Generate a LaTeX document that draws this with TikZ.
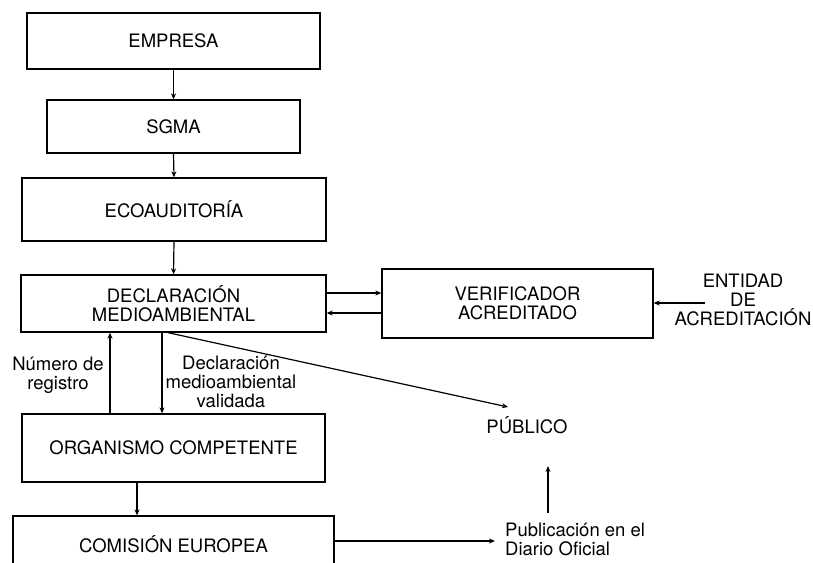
\documentclass[tikz,border=0pt]{standalone}
\usepackage{fontspec}
\setmainfont{TeX Gyre Heros}
\usetikzlibrary{arrows.meta,calc}
\begin{document}
\begin{tikzpicture}[x=1pt,y=-1pt,
  box/.style={draw,line width=1.3pt,inner sep=0pt,align=center,font=\fontsize{18.5}{19.5}\selectfont},
  lbl/.style={inner sep=0pt,align=center,font=\fontsize{18.5}{19}\selectfont},
  arr/.style={line width=1.2pt,-{Stealth[length=6pt,width=5pt]}}]
\clip (0,0) rectangle (813,562);
\fill[white] (0,0) rectangle (813,562);
\node[box,minimum width=293pt,minimum height=56pt] (emp) at (173.5,41) {EMPRESA};
\node[box,minimum width=253pt,minimum height=53pt] (sgma) at (173.5,126.5) {SGMA};
\node[box,minimum width=304pt,minimum height=63pt] (eco) at (174,209.5) {ECOAUDITORÍA};
\node[box,minimum width=305pt,minimum height=57pt] (decl) at (173.5,303.5) {DECLARACIÓN\\MEDIOAMBIENTAL};
\node[box,minimum width=271pt,minimum height=69pt] (ver) at (517.5,303.5) {VERIFICADOR\\ACREDITADO};
\node[lbl] (ent) at (743,300) {ENTIDAD\\DE\\ACREDITACIÓN};
\node[box,minimum width=303pt,minimum height=68pt] (org) at (173.5,448) {ORGANISMO COMPETENTE};
\node[box,minimum width=321pt,minimum height=56pt] (com) at (173.5,544) {COMISIÓN EUROPEA};
\node[lbl] (nreg) at (58,375) {Número de\\registro};
\node[lbl] (dval) at (231,382) {Declaración\\medioambiental\\validada};
\node[lbl] (pub) at (527,425) {PÚBLICO};
\node[lbl,align=left,anchor=west] (pdo) at (505,539) {Publicación en el\\Diario Oficial};
\coordinate (entout) at (705,303);
\coordinate (pubin) at (508,407);
\coordinate (pdoout) at (548,513);
\coordinate (pubup) at (548,466);
\coordinate (pdoin) at (495,541);

\draw[arr] (emp.south) -- (sgma.north);
\draw[arr] (sgma.south) -- (eco.north);
\draw[arr] (eco.south) -- (decl.north);
\draw[arr] ([yshift=10.5pt]decl.east) -- ([yshift=10.5pt]decl.east -| ver.west);
\draw[arr] ([yshift=-9.5pt]decl.east -| ver.west) -- ([yshift=-9.5pt]decl.east);
\draw[arr] (entout) -- (entout -| ver.east);
\draw[arr] ([xshift=-63.5pt]org.north) -- ([xshift=-63.5pt]decl.south);
\draw[arr] ([xshift=-11.5pt]decl.south) -- ([xshift=-11.5pt]org.north);
\draw[arr] ([xshift=-5.5pt]decl.south) -- (pubin);
\draw[arr] ([xshift=-36.5pt]org.south) -- ([xshift=-36.5pt]org.south |- com.north);
\draw[arr] (pdoin -| com.east) -- (pdoin);
\draw[arr] (pdoout) -- (pubup);
\end{tikzpicture}
\end{document}
